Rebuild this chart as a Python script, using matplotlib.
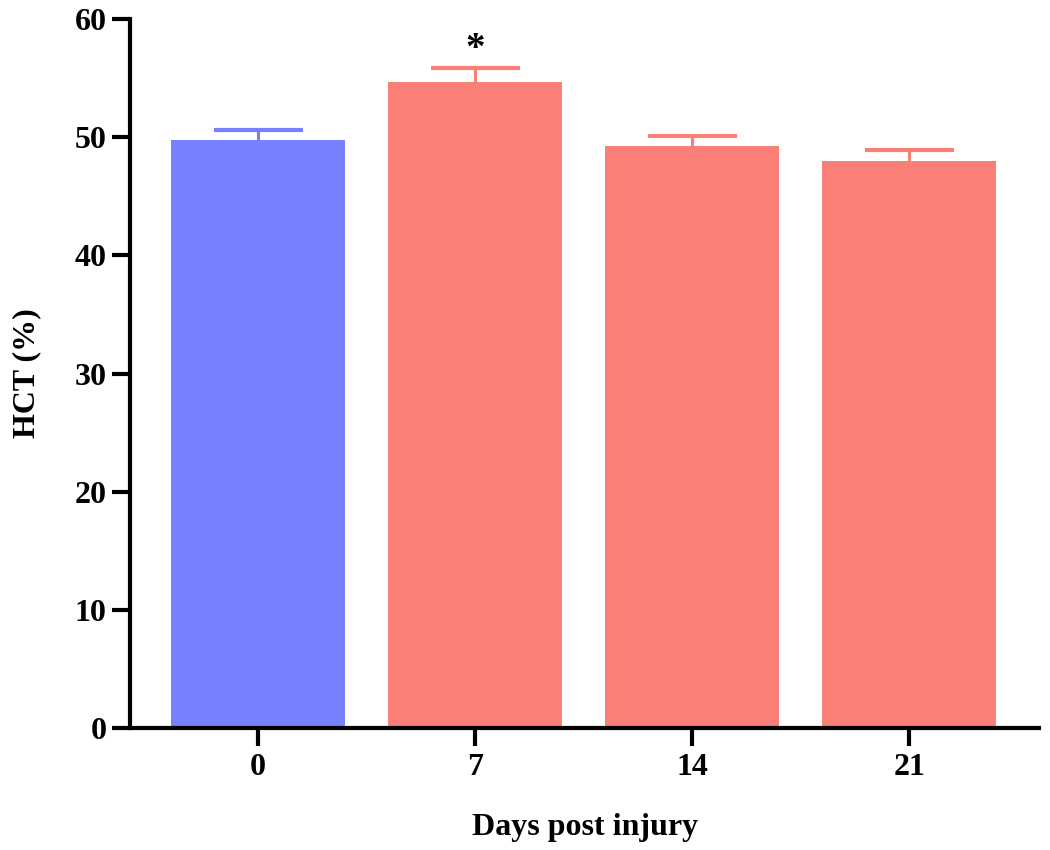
import matplotlib.pyplot as plt
import numpy as np

# data
days = ["0", "7", "14", "21"]
hct_mean = [49.8, 54.7, 49.3, 48.0]
hct_sem = [0.8, 1.2, 0.8, 0.9]
bar_colors = ["#7780FF", "#FA7F76", "#FA7F76", "#FA7F76"]
significant = [False, True, False, False]

plt.rcParams['font.family'] = ['Liberation Serif', 'DejaVu Serif']
plt.rcParams['font.weight'] = 'bold'

fig = plt.figure(figsize=(10.5, 8.5), dpi=100)
ax = fig.add_axes([0.124, 0.1435, 0.866, 0.834])

x = np.arange(len(days))
ax.bar(x, hct_mean, width=0.8, color=bar_colors, zorder=2)

# upper-only error bars, same colour as the bar
cap_half = 0.205
for xi, m, s, c in zip(x, hct_mean, hct_sem, bar_colors):
    ax.vlines(xi, m, m + s, colors=c, linewidth=2.2, zorder=1)
    ax.hlines(m + s, xi - cap_half, xi + cap_half, colors=c, linewidth=3, zorder=1)

for xi, m, s, sig in zip(x, hct_mean, hct_sem, significant):
    if sig:
        ax.annotate("*", (xi, m + s), xytext=(0, 0), textcoords='offset points',
                    ha='center', va='bottom', fontsize=28, fontweight='bold')

ax.set_xlim(-0.59, 3.6)
ax.set_ylim(0, 60)
ax.set_yticks(range(0, 61, 10))
ax.set_xticks(x)
ax.set_xticklabels(days)

for side in ['top', 'right']:
    ax.spines[side].set_visible(False)
for side in ['left', 'bottom']:
    ax.spines[side].set_linewidth(3)
ax.tick_params(axis='both', width=3, length=13, labelsize=23, direction='out')
ax.tick_params(axis='y', pad=4)
ax.tick_params(axis='x', pad=5)

ax.set_ylabel("HCT (%)", fontsize=23, fontweight='bold', labelpad=24)
ax.set_xlabel("Days post injury", fontsize=23, fontweight='bold', labelpad=22)

fig.savefig("out.png", dpi=100)
